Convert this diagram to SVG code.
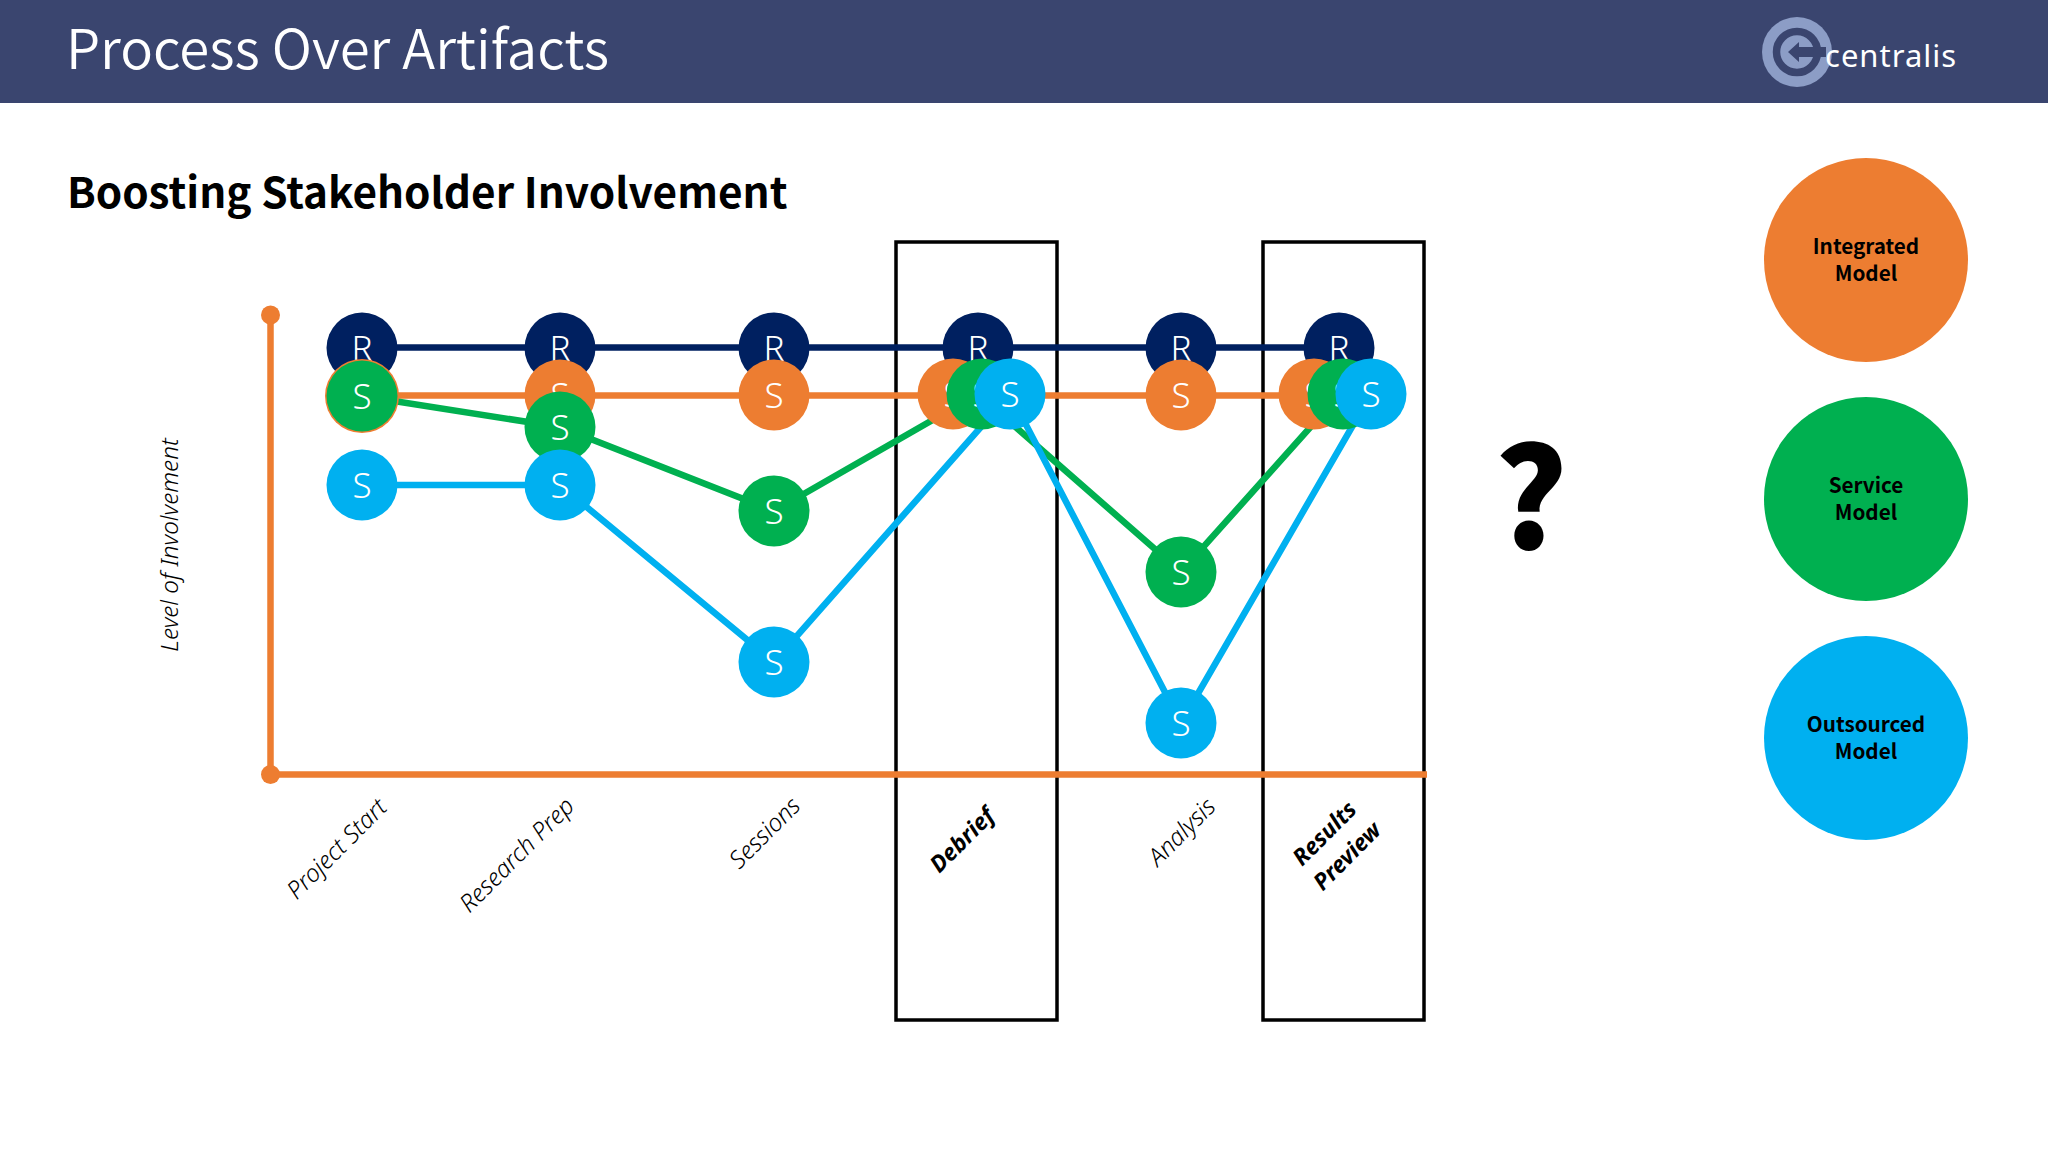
<svg xmlns="http://www.w3.org/2000/svg" width="2048" height="1152" viewBox="0 0 2048 1152">
<style>
text{font-family:"Noto Sans","Open Sans","Liberation Sans",sans-serif}
.cjk{font-family:"Noto Sans CJK SC","Noto Sans","Liberation Sans",sans-serif}
.n{fill:#002060}.o{fill:#ED7D31}.g{fill:#00B050}.b{fill:#00B0F0}
.l{fill:#fff;font-size:35px;font-weight:300;text-anchor:middle}
.ax{font-size:24.300px;font-style:italic;font-weight:300;text-anchor:middle;fill:#000}
.bx{font-weight:700;font-size:23px}
.lg{font-size:20.700px;font-weight:700;text-anchor:middle;fill:#000;font-family:"Noto Sans CJK SC","Noto Sans",sans-serif}
.w{fill:none;stroke-width:6.500}
.box{fill:none;stroke:#000;stroke-width:3.500}
</style>
<rect width="2048" height="1152" fill="#fff"/>
<g id="header">
<rect width="2048" height="103" fill="#3A456F"/>
<text class="cjk" x="66" y="68.500" font-size="54.500" font-weight="350" fill="#fff">Process Over Artifacts</text>
<circle cx="1797" cy="52" r="35" fill="#8C9DC6"/>
<circle cx="1797" cy="52" r="20.500" fill="none" stroke="#3A456F" stroke-width="7.500"/>
<path d="M1788 52L1799 42V47H1826V57H1799V62Z" fill="#3A456F"/>
<text x="1825" y="67" font-size="31" font-weight="400" letter-spacing="1" fill="#fff">centralis</text>
</g>
<text class="cjk" x="67" y="208" font-size="42.300" font-weight="700" fill="#000">Boosting Stakeholder Involvement</text>
<g id="boxes">
<rect class="box" x="896" y="242" width="161" height="778"/>
<rect class="box" x="1263" y="242" width="161" height="778"/>
</g>
<g id="connectors">
<path class="w" stroke="#002060" d="M362 347.500H1339"/>
<path class="w" stroke="#ED7D31" d="M362 395.500H1339"/>
<path class="w" stroke="#00B050" d="M362 396L560 427L774 511L978 394L1181 572L1340 394"/>
<path class="w" stroke="#00B0F0" d="M362 485H560L774 662L1010 394L1181 723L1371 394"/>
</g>
<g id="axes">
<path class="w" stroke="#ED7D31" d="M270.500 315V774.500H1427"/>
<circle class="o" cx="270.500" cy="315" r="9.500"/>
<circle class="o" cx="270.500" cy="774.500" r="9.500"/>
</g>
<g id="r1"><circle class="n" cx="362" cy="348" r="35.500"/><text class="l" x="362" y="361">R</text></g>
<g id="r2"><circle class="n" cx="560" cy="348" r="35.500"/><text class="l" x="560" y="361">R</text></g>
<g id="r3"><circle class="n" cx="774" cy="348" r="35.500"/><text class="l" x="774" y="361">R</text></g>
<g id="r4"><circle class="n" cx="978" cy="348" r="35.500"/><text class="l" x="978" y="361">R</text></g>
<g id="r5"><circle class="n" cx="1181" cy="348" r="35.500"/><text class="l" x="1181" y="361">R</text></g>
<g id="r6"><circle class="n" cx="1339" cy="348" r="35.500"/><text class="l" x="1339" y="361">R</text></g>
<g id="o1"><circle class="o" cx="362" cy="396" r="37"/></g>
<g id="o2"><circle class="o" cx="560" cy="395" r="35.500"/><text class="l" x="560" y="408">S</text></g>
<g id="o3"><circle class="o" cx="774" cy="395" r="35.500"/><text class="l" x="774" y="408">S</text></g>
<g id="o4"><circle class="o" cx="953" cy="394" r="35.500"/><text class="l" x="953" y="407">S</text></g>
<g id="o5"><circle class="o" cx="1181" cy="395" r="35.500"/><text class="l" x="1181" y="408">S</text></g>
<g id="o6"><circle class="o" cx="1314" cy="394" r="35.500"/><text class="l" x="1314" y="407">S</text></g>
<g id="g1"><circle class="g" cx="362" cy="396" r="35.500"/><text class="l" x="362" y="409">S</text></g>
<g id="g2"><circle class="g" cx="560" cy="427" r="35.500"/><text class="l" x="560" y="440">S</text></g>
<g id="g3"><circle class="g" cx="774" cy="511" r="35.500"/><text class="l" x="774" y="524">S</text></g>
<g id="g4"><circle class="g" cx="982" cy="394" r="35.500"/><text class="l" x="982" y="407">S</text></g>
<g id="g5"><circle class="g" cx="1181" cy="572" r="35.500"/><text class="l" x="1181" y="585">S</text></g>
<g id="g6"><circle class="g" cx="1343" cy="394" r="35.500"/><text class="l" x="1343" y="407">S</text></g>
<g id="b1"><circle class="b" cx="362" cy="485" r="35.500"/><text class="l" x="362" y="498">S</text></g>
<g id="b2"><circle class="b" cx="560" cy="485" r="35.500"/><text class="l" x="560" y="498">S</text></g>
<g id="b3"><circle class="b" cx="774" cy="662" r="35.500"/><text class="l" x="774" y="675">S</text></g>
<g id="b4"><circle class="b" cx="1010" cy="394" r="35.500"/><text class="l" x="1010" y="407">S</text></g>
<g id="b5"><circle class="b" cx="1181" cy="723" r="35.500"/><text class="l" x="1181" y="736">S</text></g>
<g id="b6"><circle class="b" cx="1371" cy="394" r="35.500"/><text class="l" x="1371" y="407">S</text></g>
<g id="labels">
<text class="ax" transform="translate(170 545) rotate(-90)" y="8">Level of Involvement</text>
<text class="ax" transform="translate(337 849) rotate(-45)" y="8">Project Start</text>
<text class="ax" transform="translate(517 855) rotate(-45)" y="8">Research Prep</text>
<text class="ax" transform="translate(765 833) rotate(-45)" y="8">Sessions</text>
<text class="ax bx" transform="translate(962 840) rotate(-45)" y="8">Debrief</text>
<text class="ax" transform="translate(1182 832) rotate(-45)" y="8">Analysis</text>
<text class="ax bx" transform="translate(1335 844) rotate(-45)"><tspan x="0" y="-7">Results</tspan><tspan x="0" y="25">Preview</tspan></text>
</g>
<text class="cjk" id="question" x="1531" y="549" font-size="138" font-weight="900" text-anchor="middle" fill="#000">?</text>
<g id="integrated"><circle class="o" cx="1866" cy="260" r="102"/><text class="lg" x="1866" y="254">Integrated</text><text class="lg" x="1866" y="281">Model</text></g>
<g id="service"><circle class="g" cx="1866" cy="499" r="102"/><text class="lg" x="1866" y="493">Service</text><text class="lg" x="1866" y="520">Model</text></g>
<g id="outsourced"><circle class="b" cx="1866" cy="738" r="102"/><text class="lg" x="1866" y="732">Outsourced</text><text class="lg" x="1866" y="759">Model</text></g>
</svg>
